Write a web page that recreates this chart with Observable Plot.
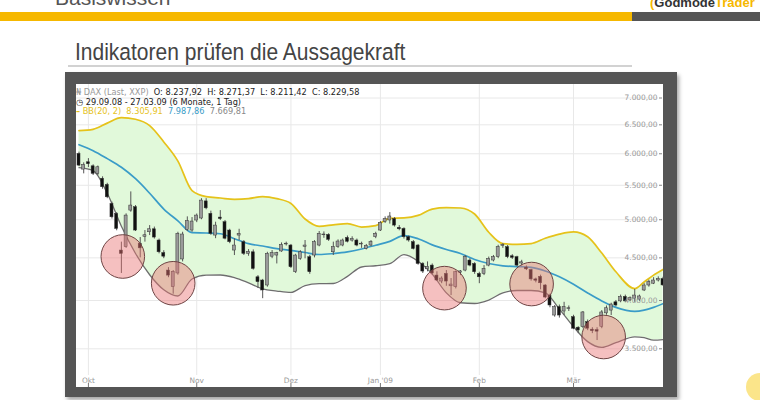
<!DOCTYPE html>
<html><head><meta charset="utf-8">
<script src="https://cdn.jsdelivr.net/npm/d3@7"></script>
<script src="https://cdn.jsdelivr.net/npm/@observablehq/plot@0.6"></script>
<style>
html,body{margin:0;padding:0;background:#fff;}
#slide{position:relative;width:760px;height:400px;overflow:hidden;font-family:"Liberation Sans",Arial,sans-serif;}
.abs{position:absolute;white-space:nowrap;}
.lg{font-family:"DejaVu Sans",sans-serif;font-size:8.2px;line-height:1;color:#222;}
</style></head><body><div id="slide">
<div class="abs" style="left:55px;top:-13px;font-size:21px;line-height:1;color:#555">Basiswissen</div>
<div class="abs" style="left:0;top:12px;width:632px;height:9px;background:#f6b800"></div>
<div class="abs" style="left:632px;top:12px;width:128px;height:9px;background:#555"></div>
<div class="abs" style="left:650px;top:-4px;font-size:13px;font-weight:bold;line-height:1"><span style="color:#f6b800">(</span><span style="color:#333">Godmode</span><span style="color:#f6b800">Trader</span></div>
<div class="abs" style="left:75px;top:42px;font-size:21px;line-height:1;color:#444;transform:scaleY(1.13);transform-origin:0 18px">Indikatoren prüfen die Aussagekraft</div>
<div class="abs" style="left:68px;top:65px;width:564px;height:2px;background:#d2d2d2"></div>
<div class="abs" style="left:65px;top:72px;width:612px;height:325px;background:#555;box-shadow:2px 3px 4px rgba(0,0,0,0.35)"></div>
<div class="abs" id="panel" style="left:76px;top:84px;width:587px;height:303px;background:#fff;overflow:hidden"></div>
<div class="abs lg" style="left:76px;top:88px"><span style="color:#999">₦</span>&nbsp;<span style="color:#999">DAX (Last, XXP)</span>&nbsp; O: 8.237,92&nbsp; H: 8.271,37&nbsp; L: 8.211,42&nbsp; C: 8.229,58</div>
<div class="abs lg" style="left:76px;top:98px">◷&nbsp;29.09.08 - 27.03.09 (6 Monate, 1 Tag)</div>
<div class="abs lg" style="left:76px;top:107px"><span style="color:#e6c21a;font-weight:bold">–</span>&nbsp;<span style="color:#e6c21a">BB(20, 2)&nbsp; 8.305,91</span>&nbsp; <span style="color:#3a9cc8">7.987,86</span>&nbsp; <span style="color:#888">7.669,81</span></div>
<div class="abs" style="left:746px;top:373px;width:28px;height:28px;border-radius:50%;background:#fbe58a"></div>
</div>
<script>
// OHLC per trading day (index 0 = 29.09.08 ... 124 = 27.03.09)
const open  = [5998,5743,5861,5796,5676,5600,5505,5224,5082,4592,4635,5128,5176,4680,4770,4830,4870,4721,4560,4345,4150,4310,4480,4860,4853,4989,5017,5260,5082,4786,5030,4966,4853,4592,4786,4700,4550,4570,4265,4227,4169,4515,4529,4580,4670,4656,4325,4488,4640,4508,4529,4656,4790,4795,4570,4635,4656,4755,4720,4721,4670,4612,4656,4765,4853,4966,4990,5010,4890,4875,4765,4700,4656,4425,4360,4405,4285,4215,4305,4160,4150,4320,4345,4467,4425,4305,4305,4405,4467,4508,4650,4635,4520,4508,4430,4380,4350,4240,4270,4169,4055,3837,3928,3880,3905,3820,3710,3715,3768,3690,3685,3720,3860,3890,3980,3990,4040,4000,4020,4010,4112,4169,4190,4227,4245];
const high  = [6027,5851,5920,5820,5800,5630,5530,5250,5100,4700,5082,5400,5200,4760,4853,4920,4900,4740,4590,4380,4345,4830,4830,5040,5030,5080,5300,5300,5120,4966,5128,4990,4870,4745,4870,4720,4604,4600,4285,4240,4570,4592,4570,4690,4700,4670,4545,4590,4721,4530,4720,4840,4835,4810,4700,4730,4740,4780,4770,4740,4700,4670,4720,4830,4975,5040,5100,5030,4920,4890,4780,4720,4670,4440,4450,4425,4330,4270,4345,4250,4340,4345,4530,4490,4440,4325,4405,4510,4530,4660,4680,4656,4540,4520,4470,4400,4360,4255,4290,4180,4070,3945,3950,3980,3940,3840,3720,3880,3790,3710,3710,3890,3940,3970,4000,4060,4060,4040,4125,4060,4190,4230,4260,4270,4265];
const low   = [5791,5676,5775,5650,5650,5440,5300,5010,4850,4310,4620,5105,4840,4500,4700,4786,4740,4550,4490,4260,4070,4290,4450,4840,4830,4960,5000,5140,4790,4745,4989,4730,4680,4529,4721,4530,4520,4350,4135,4020,4150,4490,4425,4570,4650,4370,4310,4470,4488,4300,4500,4640,4750,4710,4530,4620,4640,4690,4700,4640,4620,4600,4640,4745,4840,4950,4940,4900,4850,4740,4700,4600,4410,4310,4330,4290,4215,4190,4160,4055,4130,4285,4330,4390,4300,4190,4285,4390,4450,4490,4620,4490,4480,4390,4400,4345,4220,4200,4120,4020,3920,3820,3810,3837,3880,3690,3650,3700,3680,3650,3581,3700,3840,3837,3930,3975,3975,3985,3980,3990,4100,4150,4180,4210,4160];
const close = [5807,5818,5829,5676,5780,5470,5320,5034,4875,4550,5058,5200,4853,4620,4790,4870,4760,4570,4515,4285,4330,4810,4800,4980,4975,5058,5272,5160,4808,4920,5010,4745,4700,4656,4808,4550,4575,4365,4208,4112,4550,4560,4560,4665,4680,4385,4529,4570,4656,4325,4700,4810,4800,4730,4635,4708,4721,4705,4740,4656,4680,4650,4700,4810,4957,5010,5045,4920,4870,4765,4721,4612,4425,4333,4390,4310,4227,4250,4215,4180,4325,4335,4510,4405,4325,4265,4365,4488,4508,4635,4665,4508,4500,4405,4445,4360,4240,4225,4195,4033,3945,3928,3837,3928,3915,3700,3682,3870,3700,3675,3670,3870,3915,3955,3945,4040,3990,4025,4055,4045,4169,4208,4227,4245,4170];

// Bollinger bands (20, 2) read at sample trading days
const bandIdx  = [0,3,6,9,12,15,18,21,24,27,30,33,36,39,42,45,48,51,54,57,60,63,66,69,72,75,78,81,84,87,90,93,96,99,102,105,108,111,114,118,120,122,124];
const bbUpper  = [6397,6420,6530,6631,6600,6486,6200,5880,5420,5330,5310,5290,5300,5330,5300,5230,5010,4910,4930,4948,4900,4920,5020,5025,5060,5150,5170,5165,5080,4830,4680,4670,4680,4750,4805,4835,4770,4560,4330,4134,4210,4290,4358];
const bbMiddle = [6152,6052,5920,5780,5600,5380,5150,4985,4825,4820,4810,4745,4680,4650,4617,4595,4567,4542,4554,4575,4612,4660,4710,4786,4745,4665,4605,4555,4480,4430,4402,4393,4383,4340,4270,4183,4084,3995,3925,3882,3895,3925,3965];
const bbLower  = [5775,5727,5380,4910,4555,4295,4120,4050,4245,4290,4292,4262,4200,4130,4106,4090,4168,4190,4192,4275,4388,4403,4428,4540,4458,4302,4085,3975,3967,4005,4085,4112,4112,4085,3905,3720,3570,3514,3560,3618,3610,3585,3590];

// highlight circles (trading-day index, price level)
const circleIdx   = [9.3, 20, 77.6, 96.1, 111.4];
const circleValue = [4517, 4195, 4139, 4186, 3616];

const yTicks = [3500,4000,4500,5000,5500,6000,6500,7000];
const monthIdx = [2,25,45,64,85,105];
const monthLabel = ["Okt","Nov","Dez","Jan '09","Feb","Mär"];

const candles = open.map((o,i)=>({i, o, h:high[i], l:low[i], c:close[i]}));
const bands = bandIdx.map((i,k)=>({i, u:bbUpper[k], m:bbMiddle[k], lo:bbLower[k]}));
const circles = circleIdx.map((i,k)=>({i, v:circleValue[k]}));
const months = monthIdx.map((i,k)=>({i, label:monthLabel[k]}));
const deFmt = v => d3.format(",.2f")(v).replace(/,/g,"#").replace(/\./g,",").replace(/#/g,".");

const chart = Plot.plot({
  width: 587, height: 303,
  marginLeft: 0, marginRight: 5, marginTop: 0, marginBottom: 4,
  x: {type:"linear", domain:[0,124], range:[2.5,586.5], label:null},
  y: {type:"log", domain:[3500,7000], range:[264.3,13.5], label:null},
  style: {background:"transparent", overflow:"visible", fontFamily:"DejaVu Sans", fontSize:"7.4px"},
  marks: [
    Plot.gridY(yTicks, {stroke:"#e8e8e8", strokeOpacity:1}),
    Plot.gridX(monthIdx, {stroke:"#e8e8e8", strokeOpacity:1, insetBottom:8}),
    Plot.areaY(bands, {x:"i", y1:"lo", y2:"u", fill:"#e1f9da", curve:"monotone-x"}),
    Plot.line(bands, {x:"i", y:"u", stroke:"#e6c21a", strokeWidth:1.7, curve:"monotone-x"}),
    Plot.line(bands, {x:"i", y:"m", stroke:"#3a9cc8", strokeWidth:1.7, curve:"monotone-x"}),
    Plot.line(bands, {x:"i", y:"lo", stroke:"#6e6e6e", strokeWidth:1.3, curve:"monotone-x"}),
    Plot.ruleX(candles, {x:"i", y1:"l", y2:"h", stroke:"#555", strokeWidth:1}),
    Plot.rect(candles, {x1:d=>d.i-0.32, x2:d=>d.i+0.32, y1:"o", y2:"c",
      fill:d=>d.c>=d.o?"#9a9a9a":"#111", stroke:"#333", strokeWidth:0.5}),
    Plot.dot(circles, {x:"i", y:"v", r:21.8, fill:"#e87474", fillOpacity:0.45, stroke:"#6e4444", strokeWidth:1}),
    Plot.axisY(yTicks, {anchor:"right", tickSize:3, tickFormat:()=>"", stroke:"#888", label:null}),
    Plot.text(yTicks, {y:d=>d, text:d=>deFmt(d), frameAnchor:"right", textAnchor:"end", dx:-1, fill:"#9a9a9a", fontSize:7.4}),
    Plot.axisX(monthIdx, {anchor:"bottom", tickSize:4, tickFormat:()=>"", stroke:"#777", label:null}),
    Plot.text(months, {x:"i", text:"label", frameAnchor:"bottom", lineAnchor:"bottom", dy:-1, fill:"#9a9a9a", fontSize:7.4})
  ]
});
document.getElementById("panel").appendChild(chart);
</script>
</body></html>
